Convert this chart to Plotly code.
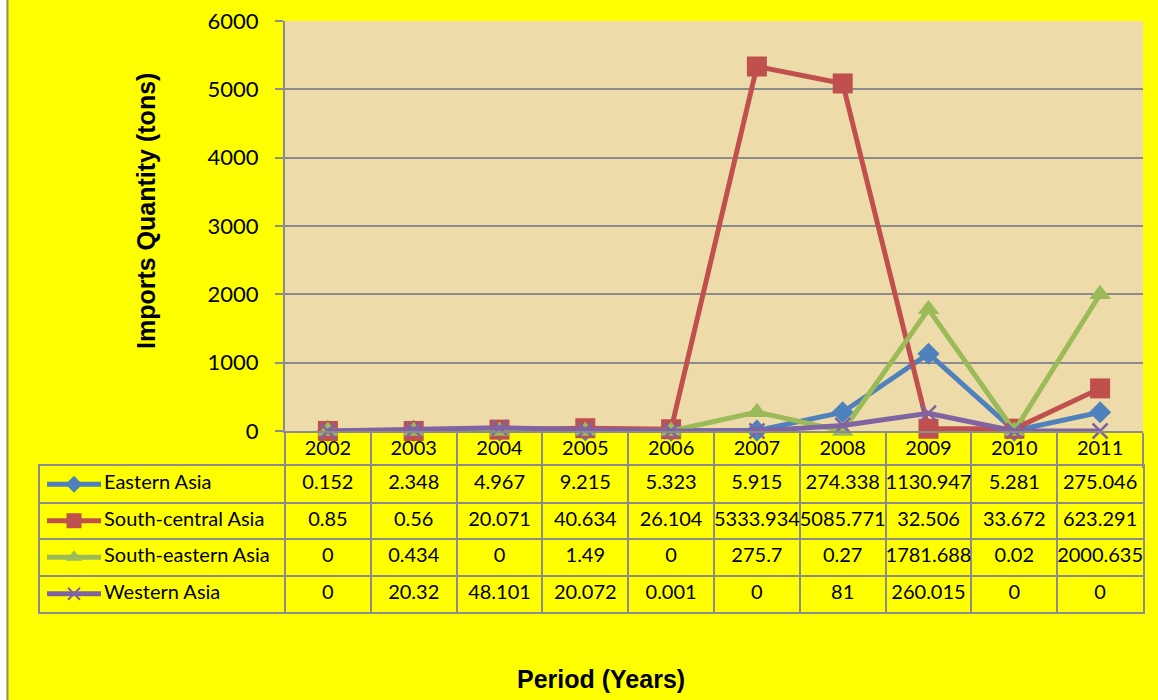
import plotly.graph_objects as go

# ---------------- data ----------------
years = ["2002", "2003", "2004", "2005", "2006", "2007", "2008", "2009", "2010", "2011"]
series_names = ["Eastern Asia", "South-central Asia", "South-eastern Asia", "Western Asia"]
eastern_asia = [0.152, 2.348, 4.967, 9.215, 5.323, 5.915, 274.338, 1130.947, 5.281, 275.046]
south_central_asia = [0.85, 0.56, 20.071, 40.634, 26.104, 5333.934, 5085.771, 32.506, 33.672, 623.291]
south_eastern_asia = [0, 0.434, 0, 1.49, 0, 275.7, 0.27, 1781.688, 0.02, 2000.635]
western_asia = [0, 20.32, 48.101, 20.072, 0.001, 0, 81, 260.015, 0, 0]
y_ticks = [0, 1000, 2000, 3000, 4000, 5000, 6000]

series_values = [eastern_asia, south_central_asia, south_eastern_asia, western_asia]

# ---------------- styles ----------------
colors = ["#4F81BD", "#C0504D", "#9BBB59", "#8064A2"]
symbols = ["diamond", "square", "triangle-up", "x-thin"]
msizes = [17, 20, 19, 15]
key_sizes = [13, 15, 14, 12]
GRID = "#8C8C8C"
YELLOW = "#FFFF00"
PAPYRUS = "#EEDBAA"
FONT = "Lato"

W, H = 1158, 700
ML, MR, MT, MB = 40, 15, 21, 88
PW, PH = W - ML - MR, H - MT - MB          # plot-area size in px
PLOT_LEFT, AXIS_Y, TABLE_TOP = 285, 431, 466
UNIT = (W - MR - PLOT_LEFT) / len(years)  # px per category
X2_MIN = -0.5 - (PLOT_LEFT - ML) / UNIT   # table axis left edge (first column)


def px_to_x2(px):
    return X2_MIN + (px - ML) / UNIT


def fmt(v):
    s = "%.3f" % v
    return s.rstrip("0").rstrip(".")


fig = go.Figure()

# ---------------- lines ----------------
for name, vals, c, sym, ms in zip(series_names, series_values, colors, symbols, msizes):
    mk = dict(symbol=sym, size=ms, color=c)
    if sym == "x-thin":
        mk["line"] = dict(color=c, width=2.5)
    fig.add_trace(go.Scatter(
        x=years, y=vals, name=name, mode="lines+markers",
        line=dict(color=c, width=5), marker=mk,
        cliponaxis=False, showlegend=False, xaxis="x", yaxis="y",
    ))

# ---------------- data table ----------------
n_rows = len(series_names)
for r, (name, vals, c, sym, ks) in enumerate(zip(series_names, series_values, colors, symbols, key_sizes)):
    yc = n_rows - r - 0.5
    # legend key line + marker
    fig.add_trace(go.Scatter(
        x=[px_to_x2(47), px_to_x2(101)], y=[yc, yc], mode="lines",
        line=dict(color=c, width=5), showlegend=False, hoverinfo="skip",
        xaxis="x2", yaxis="y2",
    ))
    mk = dict(symbol=sym, size=ks, color=c)
    if sym == "x-thin":
        mk["line"] = dict(color=c, width=2)
    fig.add_trace(go.Scatter(
        x=[px_to_x2(74)], y=[yc], mode="markers", marker=mk,
        showlegend=False, hoverinfo="skip", xaxis="x2", yaxis="y2",
    ))
    # row name
    fig.add_trace(go.Scatter(
        x=[px_to_x2(104)], y=[yc], mode="text", text=[name],
        textposition="middle right", textfont=dict(family=FONT, size=20, color="black"),
        showlegend=False, hoverinfo="skip", xaxis="x2", yaxis="y2", cliponaxis=False,
    ))
    # values
    fig.add_trace(go.Scatter(
        x=list(range(len(years))), y=[yc] * len(years), mode="text",
        text=[fmt(v) for v in vals], textposition="middle center",
        textfont=dict(family=FONT, size=20, color="black"),
        showlegend=False, hoverinfo="skip", xaxis="x2", yaxis="y2", cliponaxis=False,
    ))

main_y_domain = [(H - MB - AXIS_Y) / PH, 1.0]
table_y_domain = [0.0, (H - MB - TABLE_TOP) / PH]
main_x_domain = [(PLOT_LEFT - ML) / PW, 1.0]

fig.update_layout(
    width=W, height=H,
    margin=dict(l=ML, r=MR, t=MT, b=MB, pad=0, autoexpand=False),
    paper_bgcolor=YELLOW, plot_bgcolor=YELLOW,
    font=dict(family=FONT, color="black"),
    xaxis=dict(
        domain=main_x_domain, anchor="y", type="category",
        categoryorder="array", categoryarray=years,
        range=[-0.5, len(years) - 0.5], autorange=False, automargin=False,
        tickson="boundaries", ticks="outside", ticklen=35, tickwidth=2, tickcolor=GRID,
        showline=True, linecolor=GRID, linewidth=2, showgrid=False, zeroline=False,
        tickfont=dict(family=FONT, size=20, color="black"), ticklabelstandoff=-2,
    ),
    yaxis=dict(
        domain=main_y_domain, anchor="x", range=[0, 6000], tickvals=y_ticks,
        autorange=False, automargin=False,
        showgrid=True, gridcolor=GRID, gridwidth=2, zeroline=False,
        showline=True, linecolor=GRID, linewidth=2,
        ticks="outside", ticklen=8, tickwidth=2, tickcolor=GRID,
        tickfont=dict(family=FONT, size=22, color="black"), ticklabelstandoff=12,
    ),
    xaxis2=dict(
        domain=[0, 1], anchor="y2", range=[X2_MIN, len(years) - 0.5],
        autorange=False, automargin=False,
        tickvals=[i - 0.5 for i in range(len(years) + 1)],
        showticklabels=False, ticks="", showgrid=True, gridcolor=GRID, gridwidth=2,
        zeroline=False, showline=True, mirror=True, linecolor=GRID, linewidth=2,
    ),
    yaxis2=dict(
        domain=table_y_domain, anchor="x2", range=[0, n_rows],
        autorange=False, automargin=False,
        tickvals=list(range(1, n_rows)), showticklabels=False, ticks="",
        showgrid=True, gridcolor=GRID, gridwidth=2, zeroline=False,
        showline=True, mirror=True, linecolor=GRID, linewidth=2,
    ),
    shapes=[
        # papyrus plot area
        dict(type="rect", xref="x domain", yref="y domain", x0=0, x1=1, y0=0, y1=1,
             fillcolor=PAPYRUS, line=dict(width=0), layer="below"),
        # white strip + grey border on the far left
        dict(type="rect", xref="paper", yref="paper",
             x0=-ML / PW, x1=(6 - ML) / PW, y0=-MB / PH, y1=1 + MT / PH,
             fillcolor="white", line=dict(width=0), layer="below"),
        dict(type="line", xref="paper", yref="paper",
             x0=(7.5 - ML) / PW, x1=(7.5 - ML) / PW, y0=-MB / PH, y1=1 + MT / PH,
             line=dict(color=GRID, width=2)),
    ],
    annotations=[
        dict(text="<b>Imports Quantity (tons)</b>", xref="paper", yref="paper",
             x=(146 - ML) / PW, y=(H - MB - 211) / PH, textangle=-90,
             showarrow=False, xanchor="center", yanchor="middle",
             font=dict(family="Liberation Sans", size=25, color="black")),
        dict(text="<b>Period (Years)</b>", xref="paper", yref="paper",
             x=(601 - ML) / PW, y=(H - MB - 679) / PH,
             showarrow=False, xanchor="center", yanchor="middle",
             font=dict(family="Liberation Sans", size=25, color="black")),
    ],
)

fig.write_html(
    "out.html",
    config={"displayModeBar": False},
    post_script="document.body.style.margin='0px';document.body.style.padding='0px';",
)
